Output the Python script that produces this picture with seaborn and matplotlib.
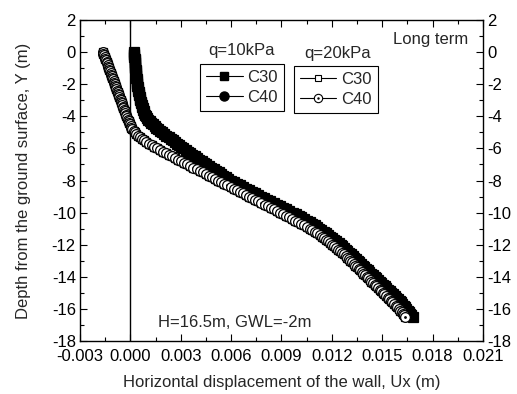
import numpy as np
import pandas as pd
import matplotlib
matplotlib.use("Agg")
import matplotlib.pyplot as plt
import seaborn as sns
from matplotlib.path import Path
from matplotlib.lines import Line2D
from matplotlib.ticker import MultipleLocator, FormatStrFormatter

# ---- data (wall nodes every 0.1 m) ----
depth = [0.0, -0.1, -0.2, -0.3, -0.4, -0.5, -0.6, -0.7, -0.8, -0.9,
         -1.0, -1.1, -1.2, -1.3, -1.4, -1.5, -1.6, -1.7, -1.8, -1.9,
         -2.0, -2.1, -2.2, -2.3, -2.4, -2.5, -2.6, -2.7, -2.8, -2.9,
         -3.0, -3.1, -3.2, -3.3, -3.4, -3.5, -3.6, -3.7, -3.8, -3.9,
         -4.0, -4.1, -4.2, -4.3, -4.4, -4.5, -4.6, -4.7, -4.8, -4.9,
         -5.0, -5.1, -5.2, -5.3, -5.4, -5.5, -5.6, -5.7, -5.8, -5.9,
         -6.0, -6.1, -6.2, -6.3, -6.4, -6.5, -6.6, -6.7, -6.8, -6.9,
         -7.0, -7.1, -7.2, -7.3, -7.4, -7.5, -7.6, -7.7, -7.8, -7.9,
         -8.0, -8.1, -8.2, -8.3, -8.4, -8.5, -8.6, -8.7, -8.8, -8.9,
         -9.0, -9.1, -9.2, -9.3, -9.4, -9.5, -9.6, -9.7, -9.8, -9.9,
         -10.0, -10.1, -10.2, -10.3, -10.4, -10.5, -10.6, -10.7, -10.8, -10.9,
         -11.0, -11.1, -11.2, -11.3, -11.4, -11.5, -11.6, -11.7, -11.8, -11.9,
         -12.0, -12.1, -12.2, -12.3, -12.4, -12.5, -12.6, -12.7, -12.8, -12.9,
         -13.0, -13.1, -13.2, -13.3, -13.4, -13.5, -13.6, -13.7, -13.8, -13.9,
         -14.0, -14.1, -14.2, -14.3, -14.4, -14.5, -14.6, -14.7, -14.8, -14.9,
         -15.0, -15.1, -15.2, -15.3, -15.4, -15.5, -15.6, -15.7, -15.8, -15.9,
         -16.0, -16.1, -16.2, -16.3, -16.4, -16.5]

ux_q10_c30 = [0.00021, 0.00022, 0.00023, 0.00024, 0.00025, 0.00026, 0.00027, 0.00028, 0.00029, 0.00030,
              0.00030, 0.00031, 0.00032, 0.00033, 0.00034, 0.00035, 0.00036, 0.00037, 0.00038, 0.00039,
              0.00040, 0.00042, 0.00044, 0.00046, 0.00048, 0.00050, 0.00052, 0.00054, 0.00056, 0.00058,
              0.00060, 0.00062, 0.00065, 0.00067, 0.00070, 0.00073, 0.00076, 0.00080, 0.00084, 0.00088,
              0.00093, 0.00100, 0.00107, 0.00115, 0.00124, 0.00134, 0.00144, 0.00155, 0.00166, 0.00178,
              0.00190, 0.00203, 0.00215, 0.00228, 0.00240, 0.00253, 0.00266, 0.00278, 0.00291, 0.00303,
              0.00316, 0.00330, 0.00343, 0.00357, 0.00370, 0.00384, 0.00398, 0.00411, 0.00425, 0.00438,
              0.00452, 0.00467, 0.00481, 0.00496, 0.00510, 0.00525, 0.00539, 0.00554, 0.00568, 0.00583,
              0.00597, 0.00615, 0.00633, 0.00651, 0.00669, 0.00688, 0.00706, 0.00724, 0.00742, 0.00760,
              0.00778, 0.00797, 0.00816, 0.00834, 0.00853, 0.00872, 0.00891, 0.00910, 0.00928, 0.00947,
              0.00966, 0.00984, 0.01002, 0.01019, 0.01036, 0.01052, 0.01068, 0.01083, 0.01098, 0.01112,
              0.01125, 0.01138, 0.01151, 0.01163, 0.01176, 0.01189, 0.01202, 0.01215, 0.01227, 0.01240,
              0.01253, 0.01263, 0.01273, 0.01283, 0.01293, 0.01303, 0.01313, 0.01323, 0.01333, 0.01343,
              0.01353, 0.01363, 0.01373, 0.01383, 0.01393, 0.01404, 0.01414, 0.01424, 0.01434, 0.01444,
              0.01454, 0.01464, 0.01474, 0.01484, 0.01494, 0.01504, 0.01514, 0.01524, 0.01534, 0.01544,
              0.01554, 0.01564, 0.01574, 0.01584, 0.01594, 0.01604, 0.01612, 0.01620, 0.01627, 0.01635,
              0.01643, 0.01651, 0.01659, 0.01667, 0.01674, 0.01682]
ux_q10_c40 = list(ux_q10_c30)  # C40 curve coincides with C30 at this scale

ux_q20_c40 = [-0.00163, -0.00160, -0.00156, -0.00153, -0.00149, -0.00146, -0.00142, -0.00139, -0.00135, -0.00132,
              -0.00128, -0.00125, -0.00121, -0.00118, -0.00114, -0.00111, -0.00107, -0.00104, -0.00100, -0.00097,
              -0.00093, -0.00090, -0.00086, -0.00083, -0.00079, -0.00076, -0.00072, -0.00069, -0.00065, -0.00062,
              -0.00058, -0.00055, -0.00051, -0.00048, -0.00044, -0.00041, -0.00037, -0.00034, -0.00030, -0.00027,
              -0.00023, -0.00019, -0.00015, -0.00011, -0.00007, -0.00003, 0.00001, 0.00006, 0.00012, 0.00019,
              0.00027, 0.00036, 0.00046, 0.00057, 0.00069, 0.00082, 0.00096, 0.00111, 0.00126, 0.00141,
              0.00157, 0.00174, 0.00192, 0.00210, 0.00228, 0.00247, 0.00265, 0.00284, 0.00302, 0.00321,
              0.00339, 0.00357, 0.00376, 0.00394, 0.00413, 0.00431, 0.00449, 0.00468, 0.00486, 0.00505,
              0.00523, 0.00541, 0.00560, 0.00578, 0.00597, 0.00615, 0.00633, 0.00652, 0.00670, 0.00689,
              0.00707, 0.00725, 0.00744, 0.00762, 0.00781, 0.00799, 0.00817, 0.00836, 0.00854, 0.00873,
              0.00891, 0.00909, 0.00928, 0.00946, 0.00965, 0.00983, 0.01000, 0.01017, 0.01034, 0.01051,
              0.01068, 0.01083, 0.01098, 0.01113, 0.01128, 0.01143, 0.01155, 0.01167, 0.01179, 0.01191,
              0.01203, 0.01215, 0.01227, 0.01239, 0.01251, 0.01263, 0.01273, 0.01282, 0.01292, 0.01301,
              0.01311, 0.01321, 0.01330, 0.01340, 0.01349, 0.01359, 0.01369, 0.01378, 0.01388, 0.01397,
              0.01407, 0.01417, 0.01426, 0.01436, 0.01445, 0.01455, 0.01465, 0.01474, 0.01484, 0.01493,
              0.01503, 0.01513, 0.01522, 0.01532, 0.01541, 0.01551, 0.01561, 0.01570, 0.01580, 0.01589,
              0.01599, 0.01607, 0.01615, 0.01623, 0.01630, 0.01638]
ux_q20_c30 = list(ux_q20_c40)  # C30 curve coincides with C40 at this scale

legend_labels = ["C30", "C40"]
legend_titles = ["q=10kPa", "q=20kPa"]
x_label = "Horizontal displacement of the wall, Ux (m)"
y_label = "Depth from the ground surface, Y (m)"
note_case = "Long term"
note_geom = "H=16.5m, GWL=-2m"

# ---- style ----
sns.set_theme(style="ticks")
plt.rcParams['font.family'] = ['Liberation Sans', 'DejaVu Sans']
plt.rcParams['axes.unicode_minus'] = False

fig = plt.figure(figsize=(5.17, 3.94), dpi=100)
ax = fig.add_axes([0.1547, 0.1345, 0.7795, 0.8147])

dot_circle = Path.make_compound_path(Path.unit_circle(), Path.circle((0, 0), 0.16))

series = [
    (ux_q10_c30, 's', 'black', 6.5),
    (ux_q10_c40, 'o', 'black', 7.0),
    (ux_q20_c30, 's', 'white', 6.3),
    (ux_q20_c40, dot_circle, 'white', 7.0),
]
for ux, mk, fc, ms in series:
    df = pd.DataFrame({"Ux": ux, "Y": depth})
    sns.lineplot(data=df, x="Ux", y="Y", sort=False, estimator=None, ax=ax,
                 color='black', lw=0.8, marker=mk, markersize=ms,
                 markerfacecolor=fc, markeredgecolor='black', markeredgewidth=0.9)

ax.axvline(0, color='black', lw=1.0, zorder=1)

ax.set_xlim(-0.003, 0.021)
ax.set_ylim(-18, 2)
ax.xaxis.set_major_locator(MultipleLocator(0.003))
ax.xaxis.set_minor_locator(MultipleLocator(0.0015))
ax.xaxis.set_major_formatter(FormatStrFormatter('%.3f'))
ax.yaxis.set_major_locator(MultipleLocator(2))
ax.yaxis.set_minor_locator(MultipleLocator(1))
ax.yaxis.set_major_formatter(FormatStrFormatter('%d'))
ax.tick_params(which='both', direction='in', top=True, right=True,
               labelright=True, labelsize=12, width=0.8, colors='black')
ax.tick_params(axis='x', which='both', pad=6)
ax.tick_params(axis='y', which='both', pad=3)
ax.tick_params(which='major', length=5)
ax.tick_params(which='minor', length=3)
for s in ax.spines.values():
    s.set_linewidth(1.0)
    s.set_color('black')

ax.set_xlabel(x_label, fontsize=12, labelpad=8)
ax.set_ylabel(y_label, fontsize=12, labelpad=15)

# legends
h10 = [Line2D([], [], color='black', lw=0.8, marker='s', ms=6, mfc='black', mec='black'),
       Line2D([], [], color='black', lw=0.8, marker='o', ms=6.5, mfc='black', mec='black')]
h20 = [Line2D([], [], color='black', lw=0.8, marker='s', ms=5, mfc='white', mec='black', mew=0.8),
       Line2D([], [], color='black', lw=0.8, marker=dot_circle, ms=6, mfc='white', mec='black', mew=0.8)]
common = dict(loc='upper left', borderaxespad=0, frameon=True, fancybox=False,
              edgecolor='black', framealpha=1, fontsize=12, handlelength=2.2,
              handletextpad=0.3, borderpad=0.35, labelspacing=0.3)
leg1 = ax.legend(h10, legend_labels, bbox_to_anchor=(0.298, 0.863), **common)
leg1.get_frame().set_linewidth(0.8)
ax.add_artist(leg1)
leg2 = ax.legend(h20, legend_labels, bbox_to_anchor=(0.531, 0.857), **common)
leg2.get_frame().set_linewidth(0.8)

ax.text(0.402, 0.905, legend_titles[0], transform=ax.transAxes, ha='center', va='center', fontsize=12)
ax.text(0.638, 0.895, legend_titles[1], transform=ax.transAxes, ha='center', va='center', fontsize=12)
ax.text(0.963, 0.938, note_case, transform=ax.transAxes, ha='right', va='center', fontsize=12)
ax.text(0.194, 0.059, note_geom, transform=ax.transAxes, ha='left', va='center', fontsize=12)

fig.savefig("out.png", dpi=100)
